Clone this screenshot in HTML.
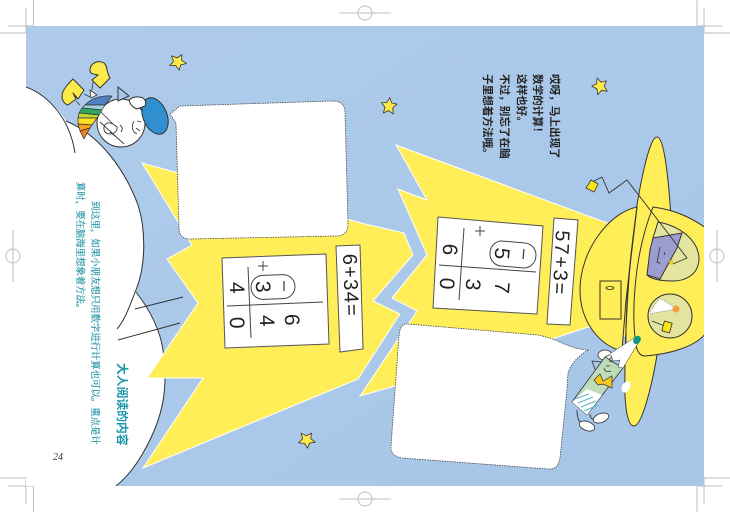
<!DOCTYPE html>
<html><head><meta charset="utf-8"><style>
html,body{margin:0;padding:0;background:#fff;width:730px;height:512px;overflow:hidden}
svg{display:block}
.d{font-family:"Liberation Sans",sans-serif;fill:#222}
.c{font-family:"Liberation Sans","Noto Sans CJK SC",sans-serif}
.s{font-family:"Liberation Serif","Noto Serif CJK SC",serif}
</style></head><body>
<svg width="730" height="512" viewBox="0 0 730 512" xmlns="http://www.w3.org/2000/svg">
<defs><clipPath id="pg"><rect x="26" y="26" width="678" height="460"/></clipPath>
<linearGradient id="bg" x1="0" y1="0" x2="1" y2="1"><stop offset="0" stop-color="#aecbea"/><stop offset="1" stop-color="#a7c6e8"/></linearGradient>
<polygon id="star" points="0,-8.5 2.4,-3.2 7.8,-2.6 3.9,1.6 5,7.5 0,4.6 -5,7.5 -3.9,1.6 -7.8,-2.6 -2.4,-3.2" stroke-linejoin="round"/></defs>
<!-- crop marks -->
<g stroke="#bdbdbd" stroke-width="1" fill="none">
<path d="M33.5,0V26M26,8V33M0,33H26M8,26H33"/>
<path d="M697,0V26M704,8V33M704,33H730M697,26H722"/>
<path d="M0,478H26V504M8,486H33M33.5,486V512"/>
<path d="M730,478H704V504M697,486H722M697,486V512"/>
<path d="M339,13H391"/><circle cx="365" cy="13" r="7"/>
<path d="M339,499H391"/><circle cx="365" cy="499" r="7"/>
<path d="M13,230V282"/><circle cx="13" cy="256" r="7"/>
<path d="M717,230V282"/><circle cx="717" cy="256" r="7"/>
</g>
<rect x="26" y="26" width="678" height="460" fill="url(#bg)"/>
<g clip-path="url(#pg)">
<!-- hills -->
<path d="M26,87C45,94 57,107 66,121C100,135 125,170 138,205C146,230 144,270 136,292C150,310 160,330 163,350C168,385 165,415 143,453C135,467 126,478 116,486H26Z" fill="#fff"/>
<path d="M26,87C50,96 70,120 75,153" fill="none" stroke="#333" stroke-width="1"/>
<path d="M66,121C100,135 125,170 138,205C146,230 146,265 136,290C130,305 125,320 117,329" fill="none" stroke="#333" stroke-width="1"/>
<path d="M136,292C150,310 160,330 163,350C168,385 165,415 143,453C135,467 126,478 116,486" fill="none" stroke="#333" stroke-width="1"/>
<path d="M135,309L183,297M118,340L180,323" stroke="#333" stroke-width="1"/>
<!-- left burst -->
<polygon points="142,163 365,224 404,233 413,255 373,301 400,314 358,379 143,468 203,378 147,378 198,303 167,259 192,245 178,222" fill="#ffee58" stroke="#fff" stroke-width="1"/>
<!-- right burst -->
<polygon points="396,145 610,224 640,340 588,327 555,338 395,386 360,396 417,311 392,298 427,255 398,189 427,200" fill="#ffee58" stroke="#fff" stroke-width="1"/>
<!-- left panel -->
<polygon points="222,258 326,254 329,344 225,348" fill="#fff" stroke="#555" stroke-width="1"/>
<polygon points="336,246 360,245 363,349 340,352" fill="#fff" stroke="#555" stroke-width="1"/>
<path d="M248,267L251,338M227,306L323,302M263,261V271M258,266H268" stroke="#444" stroke-width="1" fill="none"/>
<rect x="251" y="275" width="44" height="24" rx="12" fill="none" stroke="#444" stroke-width="1" transform="rotate(-2 273 287)"/>
<path d="M284,281V291" stroke="#333" stroke-width="1.2"/>
<g class="d" font-size="21" text-anchor="middle">
<text transform="translate(256,287) rotate(88)">3</text>
<text transform="translate(230,288) rotate(88)">4</text>
<text transform="translate(230,323) rotate(88)">0</text>
<text transform="translate(260,321) rotate(88)">4</text>
<text transform="translate(285,320) rotate(88)">6</text>
</g>
<text class="d" font-size="20" transform="translate(343,254) rotate(88)" textLength="62" lengthAdjust="spacing">6+34=</text>
<!-- right panel -->
<polygon points="438,217 543,226 537,314 433,308" fill="#fff" stroke="#555" stroke-width="1"/>
<polygon points="554,218 578,220 570,325 547,324" fill="#fff" stroke="#555" stroke-width="1"/>
<path d="M464,228L459,300M439,265L536,272M480,226V236M475,231H485" stroke="#444" stroke-width="1" fill="none"/>
<rect x="490" y="242" width="46" height="25" rx="12" fill="none" stroke="#444" stroke-width="1" transform="rotate(5 513 254)"/>
<path d="M524,249L523,259" stroke="#333" stroke-width="1.2"/>
<g class="d" font-size="21" text-anchor="middle">
<text transform="translate(495,253) rotate(95)">5</text>
<text transform="translate(443,249) rotate(95)">6</text>
<text transform="translate(440,283) rotate(95)">0</text>
<text transform="translate(466,284) rotate(95)">3</text>
<text transform="translate(495,287) rotate(95)">7</text>
</g>
<text class="d" font-size="20" transform="translate(556,230) rotate(93)" textLength="64" lengthAdjust="spacing">57+3=</text>
<!-- bubbles -->
<path d="M170,114L180,106L332,101Q345,101 345,112L348,224Q348,236 336,236L190,239Q179,239 179,228L176,123Z" fill="#fff" stroke="#444" stroke-width="0.8" stroke-dasharray="1.5 1"/>
<path d="M408,324L538,335Q552,338 562,343Q575,349 588,350Q572,360 568,373L567,389L560,458Q558,470 548,469L402,458Q390,456 391,446L399,336Q400,323 408,324Z" fill="#fff" stroke="#444" stroke-width="0.8" stroke-dasharray="1.5 1"/>
<!-- UFO brim -->
<path d="M657,137C650,137 642,175 637,205C630,250 624,330 625,395C626,415 629,426 634,426C642,426 652,385 657,355L672,240C670,190 665,137 657,137Z" fill="#ffee58" stroke="#333" stroke-width="1"/>
<!-- dome left -->
<path d="M637,207C610,212 580,250 580,290C580,320 598,345 622,351L626,300Z" fill="#ffee58" stroke="#333" stroke-width="1"/>
<path d="M637,207C631,250 625,300 626,352" fill="none" stroke="#333" stroke-width="1"/>
<rect x="600" y="281" width="21" height="38" fill="#ffee58" stroke="#333" stroke-width="1"/>
<ellipse cx="610" cy="288" rx="4" ry="1.5" fill="none" stroke="#333" stroke-width=".8"/>
<!-- head right -->
<path d="M653,207C675,210 690,217 706,228V333C695,347 670,354 645,356Q638,356 636,345C632,320 632,260 653,207Z" fill="#ffee58" stroke="#333" stroke-width="1"/>
<!-- upper window -->
<path d="M658,222C680,226 698,240 699,258C699,275 685,281 673,281C662,281 652,280 647,275L653,238Z" fill="#e3e59f" stroke="#333" stroke-width="1"/>
<polygon points="653,238 682,233 677,248 660,279 647,275 650,250" fill="#9d9ed0" stroke="#333" stroke-width="1"/>
<path d="M660,247L657,263M664,252L665,255M658,262L660,264" stroke="#333" stroke-width=".8" fill="none"/>
<polygon points="669,261 673,260 674,264 670,265" fill="#f5cb1c"/>
<path d="M602,177L609,193L627,180L687,258L673,264M602,177L592,182" fill="none" stroke="#333" stroke-width=".9"/>
<polygon points="591,180 598,184 594,192 586,188" fill="#fce41a" stroke="#333" stroke-width=".8"/>
<!-- lower window -->
<circle cx="670" cy="316" r="22" fill="#e3e59f" stroke="#333" stroke-width="1"/>
<polygon points="648,314 677,309 660,298" fill="#fff" stroke="#666" stroke-width=".6" stroke-dasharray="1 1"/>
<circle cx="676" cy="309" r="3.5" fill="#f59a3f"/>
<path d="M652,321L667,327" stroke="#333" stroke-width=".9"/>
<rect x="663" y="322" width="8" height="10" fill="#fce41a" stroke="#333" stroke-width=".8" transform="rotate(15 667 327)"/>
<!-- pencil char -->
<ellipse cx="605" cy="355" rx="7" ry="5" fill="#fff" stroke="#333" stroke-width=".8"/>
<polygon points="592,361 601,362 596,372" fill="#a9c8e9" stroke="#333" stroke-width=".8"/>
<ellipse cx="626" cy="387" rx="4" ry="6" fill="#fff" transform="rotate(30 626 387)"/>
<path d="M577,410Q577,422 583,424M590,414Q590,420 597,420" fill="none" stroke="#333" stroke-width=".9"/>
<ellipse cx="587" cy="426" rx="8" ry="4.5" fill="#fff" stroke="#333" stroke-width=".8" transform="rotate(20 587 426)"/>
<ellipse cx="601" cy="418" rx="8" ry="4.5" fill="#fff" stroke="#333" stroke-width=".8" transform="rotate(-20 601 418)"/>
<polygon points="572,402 587,415 623,368 605,357" fill="#bfdcb8" stroke="#333" stroke-width=".8"/>
<polygon points="572,402 587,415 602,395 587,389" fill="#fff"/>
<path d="M575,399L589,394M578,403L593,397M581,407L596,401M584,411L598,405" stroke="#57b4cc" stroke-width="1"/>
<polygon points="605,357 611,355 613,361 620,360 618,367 623,368 640,340 634,338" fill="#fff" stroke="#333" stroke-width=".5"/>
<ellipse cx="637" cy="340" rx="3.5" ry="4.5" fill="#129a80" transform="rotate(35 637 340)"/>
<polygon points="594,380 600,374 603,381 612,376 612,388 603,384 598,385" fill="#f8c51f" stroke="#333" stroke-width=".7"/>
<path d="M604,368Q605,373 611,371M609,361L613,362M606,366L610,366" stroke="#333" stroke-width=".7" fill="none"/>
<!-- snowman -->
<circle cx="121" cy="123" r="24" fill="#fff" stroke="#333" stroke-width="1"/>
<ellipse cx="155" cy="116" rx="12" ry="19" fill="#2f8fcf" stroke="#333" stroke-width="1" transform="rotate(-22 155 116)"/>
<polygon points="118,87 129,96 118,101" fill="#a9c8e9" stroke="#333" stroke-width="1"/>
<polygon points="90,90 97,95 91,98" fill="#fff" stroke="#333" stroke-width=".8"/>
<path d="M129,100Q135,95 143,98Q147,101 145,106L137,109Q130,106 129,100Z" fill="#fff" stroke="#333" stroke-width="1"/>
<path d="M113,124C105,120 102,128 105,132C110,136 118,133 117,127ZM120,125Q124,128 121,132M100,122L124,144M110,132L115,136" fill="#fff" stroke="#333" stroke-width=".9"/>
<path d="M134,121C131,126 132,132 137,134M137,121L141,122M136,128L140,131" fill="none" stroke="#333" stroke-width=".8"/>
<path d="M84,94L90,97M93,82L92,90" stroke="#333" stroke-width=".8" fill="none"/>
<!-- mittens -->
<path d="M62,96C62,90 68,84 73,79L84,90L78,99L73,93L76,99L68,105C64,104 62,100 62,96Z" fill="#fde94a" stroke="#333" stroke-width="1" stroke-linejoin="round"/>
<path d="M90,70C90,62 100,60 104,63C108,66 106,72 110,78L100,88L92,80L98,75C93,74 90,74 90,70Z" fill="#fde94a" stroke="#333" stroke-width="1" stroke-linejoin="round"/>
<!-- umbrella -->
<path d="M80,105L76,101" stroke="#333" stroke-width=".8"/>
<g stroke="#333" stroke-width=".7" stroke-linejoin="round">
<path d="M112,96Q95,95 85,105L105,105Z" fill="#4f80c2"/>
<path d="M85,105L82,108L102,110L105,105Z" fill="#9dd0dd"/>
<path d="M82,108L79,113L99,115L102,110Z" fill="#2da85e"/>
<path d="M79,113L78,118L97,118L99,115Z" fill="#c5d934"/>
<path d="M78,118L78,124L92,125L97,118Z" fill="#ffdf1c"/>
<path d="M78,124L80,131L90,128L92,125Z" fill="#f7a11e"/>
<path d="M80,131L84,139L90,128Z" fill="#ee8422"/>
</g>
<path d="M101,112L113,124" stroke="#333" stroke-width=".8"/>
<!-- stars -->
<g fill="#fde94a" stroke="#333" stroke-width=".8">
<use href="#star" transform="translate(178,62) rotate(100)"/>
<use href="#star" transform="translate(389,106) rotate(5)"/>
<use href="#star" transform="translate(600,86) rotate(-20)"/>
<use href="#star" transform="translate(307,440) rotate(105)"/>
</g>
</g>
<!-- text -->
<g class="c" font-size="10.6" font-weight="700" fill="#222">
<text transform="translate(551,74) rotate(90)">哎呀，马上出现了</text>
<text transform="translate(534,74) rotate(90)">数学的计算！</text>
<text transform="translate(518,74) rotate(90)">这样也好。</text>
<text transform="translate(501,74) rotate(90)">不过，别忘了在脑</text>
<text transform="translate(484,74) rotate(90)">子里想着方法哦。</text>
</g>
<g class="s" font-size="9.4" fill="#1f93a3" stroke="#1f93a3" stroke-width=".2">
<text transform="translate(92,201) rotate(90)">到这里，如果小朋友想只用数字进行计算也可以。重点是计</text>
<text transform="translate(77,182) rotate(90)">算时，要在脑海里想象着方法。</text>
</g>
<text class="c" font-size="11.8" font-weight="700" fill="#1796a8" transform="translate(118,363) rotate(90)">大人阅读的内容</text>
<text x="53" y="460" font-family="'Liberation Serif',serif" font-style="italic" font-size="10" fill="#333">24</text>
</svg>
</body></html>
